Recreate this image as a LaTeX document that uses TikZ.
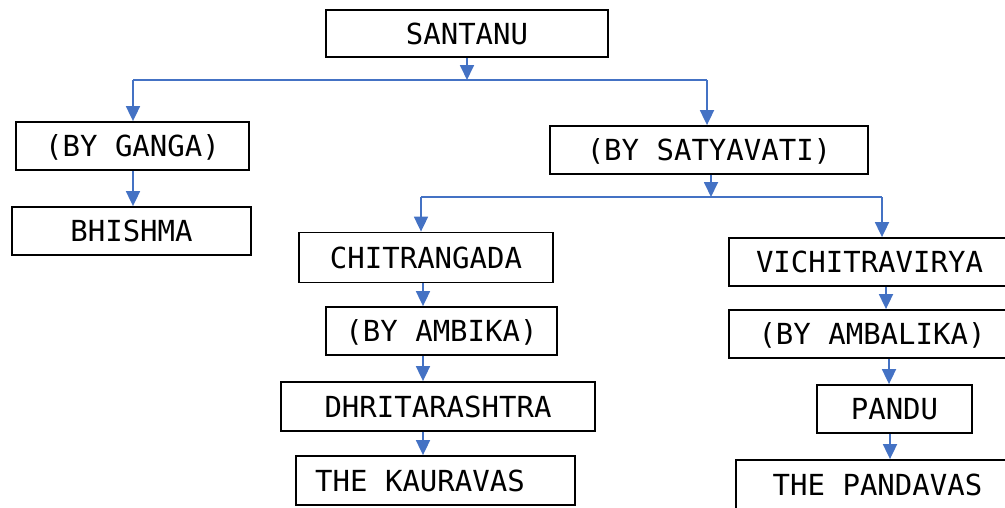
\documentclass[tikz,border=0pt]{standalone}
\usepackage{fontspec}
\setmonofont{DejaVu Sans Mono}
\usetikzlibrary{arrows.meta}
\definecolor{conn}{RGB}{68,114,196}
\tikzset{
  box/.style={draw=black, line width=1.8pt, fill=white, inner sep=0pt,
    font=\ttfamily\fontsize{29}{32}\selectfont, text height=21pt, text depth=0pt},
  arr/.style={draw=conn, line width=1.8pt, -{Triangle[width=14pt,length=15pt]}},
  ln/.style={draw=conn, line width=1.8pt}
}
\begin{document}
\begin{tikzpicture}[x=1pt,y=-1pt]
\useasboundingbox (0,0) rectangle (1005,507);
\clip (0,0) rectangle (1005,507);
\node[box, minimum width=282pt, minimum height=47pt] (santanu) at (467,33.5) {SANTANU};
\node[box, minimum width=233pt, minimum height=48pt] (ganga) at (132.5,146) {(BY GANGA)};
\node[box, minimum width=239pt, minimum height=48pt] (bhishma) at (131.5,231) {BHISHMA};
\node[box, minimum width=318pt, minimum height=48pt] (satya) at (709,150) {(BY SATYAVATI)};
\node[box, minimum width=254pt, minimum height=50pt] (chitra) at (426,257.5) {CHITRANGADA};
\node[box, minimum width=231pt, minimum height=48pt] (ambika) at (441.5,331) {(BY AMBIKA)};
\node[box, minimum width=314pt, minimum height=49pt] (dhrit) at (438,406.5) {DHRITARASHTRA};
\node[box, minimum width=279pt, minimum height=49pt] (kaurava) at (435.5,480.5) {THE KAURAVAS\hspace*{31pt}};
\node[box, minimum width=281pt, minimum height=48pt] (vichitra) at (869.5,262) {VICHITRAVIRYA};
\node[box, minimum width=286pt, minimum height=48pt] (ambalika) at (872,334) {(BY AMBALIKA)};
\node[box, minimum width=155pt, minimum height=48pt] (pandu) at (894.5,409) {PANDU};
\node[box, minimum width=283pt, minimum height=53pt, text depth=4pt] (pandava) at (877.5,486.5) {THE PANDAVAS};
% junction coordinates
\coordinate (j1) at (467,80);
\coordinate (j1l) at (133,80);
\coordinate (j1r) at (707,80);
\coordinate (j2) at (711,197);
\coordinate (j2l) at (421,197);
\coordinate (j2r) at (882,197);
\coordinate (xk) at (423,0);
\coordinate (xp1) at (886,0);
\coordinate (xp2) at (889,0);
\coordinate (xp3) at (890,0);
% connectors
\draw[arr] (santanu.south) -- (j1);
\draw[ln] (j1l) -- (j1r);
\draw[arr] (j1l) -- (ganga.north -| j1l);
\draw[arr] (j1r) -- (satya.north -| j1r);
\draw[arr] (ganga.south -| j1l) -- (bhishma.north -| j1l);
\draw[arr] (satya.south -| j2) -- (j2);
\draw[ln] (j2l) -- (j2r);
\draw[arr] (j2l) -- (chitra.north -| j2l);
\draw[arr] (j2r) -- (vichitra.north -| j2r);
\draw[arr] (chitra.south -| xk) -- (ambika.north -| xk);
\draw[arr] (ambika.south -| xk) -- (dhrit.north -| xk);
\draw[arr] (dhrit.south -| xk) -- (kaurava.north -| xk);
\draw[arr] (vichitra.south -| xp1) -- (ambalika.north -| xp1);
\draw[arr] (ambalika.south -| xp2) -- (pandu.north -| xp2);
\draw[arr] (pandu.south -| xp3) -- (pandava.north -| xp3);
\end{tikzpicture}
\end{document}
